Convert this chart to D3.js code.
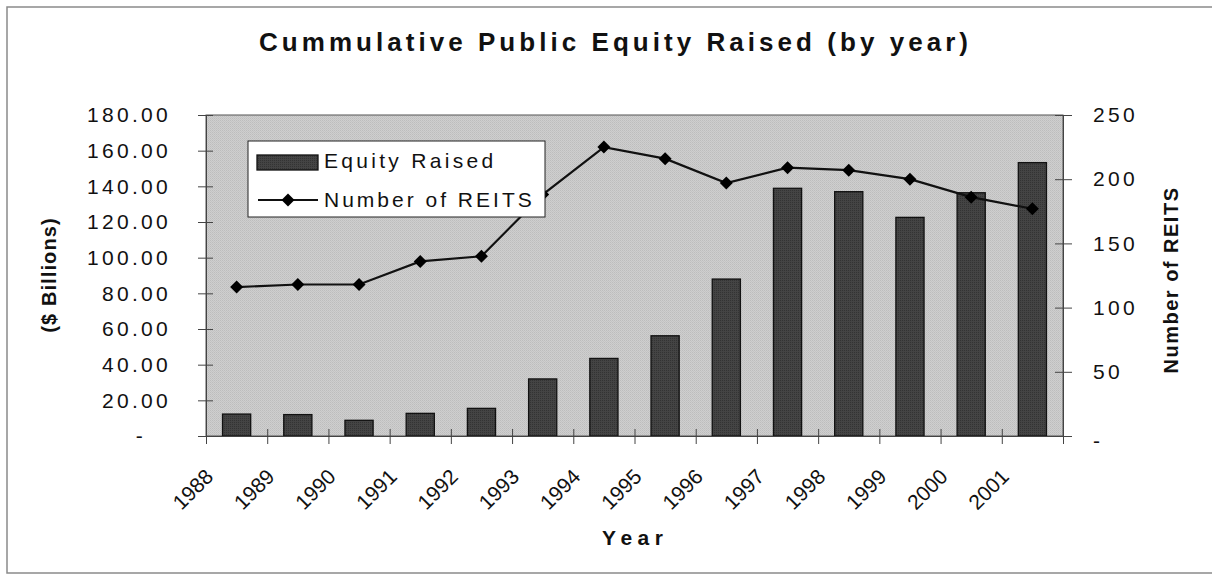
<!DOCTYPE html>
<html>
<head>
<meta charset="utf-8">
<script src="https://cdn.jsdelivr.net/npm/d3@7.9.0/dist/d3.min.js"></script>
<style>
  html, body { margin: 0; padding: 0; background: #fff; }
  svg { display: block; font-family: 'Liberation Sans', Arial, sans-serif; }
</style>
</head>
<body>
<svg id="chart" width="1212" height="577"></svg>
<script>
// values
const years = ['1988', '1989', '1990', '1991', '1992', '1993', '1994', '1995', '1996', '1997', '1998', '1999', '2000', '2001'];
const equityRaised = [12.3, 12.0, 8.8, 12.7, 15.5, 32.0, 43.5, 56.2, 88.0, 138.9, 137.0, 122.6, 136.4, 153.3];
const numberOfReits = [116, 118, 118, 136, 140, 188, 225, 216, 197, 209, 207, 200, 186, 177];
const leftTicks = [0, 20, 40, 60, 80, 100, 120, 140, 160, 180];
const rightTicks = [0, 50, 100, 150, 200, 250];

const rows = years.map((y, i) => ({ year: y, equity: equityRaised[i], reits: numberOfReits[i] }));

const svg = d3.select('#chart');
const plot = { left: 206, right: 1063, top: 115, bottom: 436 };

const defs = svg.append('defs');
const bgPat = defs.append('pattern').attr('id', 'stipple')
  .attr('width', 2).attr('height', 2).attr('patternUnits', 'userSpaceOnUse');
bgPat.append('rect').attr('width', 2).attr('height', 2).attr('fill', '#cfcfcf');
bgPat.append('rect').attr('width', 1).attr('height', 1).attr('fill', '#bdbdbd');
bgPat.append('rect').attr('x', 1).attr('y', 1).attr('width', 1).attr('height', 1).attr('fill', '#c4c4c4');

const barPat = defs.append('pattern').attr('id', 'barStipple')
  .attr('width', 2).attr('height', 2).attr('patternUnits', 'userSpaceOnUse');
barPat.append('rect').attr('width', 2).attr('height', 2).attr('fill', '#444');
barPat.append('rect').attr('width', 1).attr('height', 1).attr('fill', '#333');

// outer chart border
svg.append('rect')
  .attr('x', 7).attr('y', 7).attr('width', 1230).attr('height', 566)
  .attr('fill', 'none').attr('stroke', '#8a8a8a').attr('stroke-width', 1.5);

// scales
const x = d3.scaleBand().domain(years).range([plot.left, plot.right])
  .paddingInner(0.54).paddingOuter(0.27);
const xEdge = d3.scaleLinear().domain([0, years.length]).range([plot.left, plot.right]);
const yLeft = d3.scaleLinear().domain([0, 180]).range([plot.bottom, plot.top]);
const yRight = d3.scaleLinear().domain([0, 250]).range([plot.bottom, plot.top]);

// plot area
svg.append('rect')
  .attr('x', plot.left).attr('y', plot.top)
  .attr('width', plot.right - plot.left).attr('height', plot.bottom - plot.top)
  .attr('fill', 'url(#stipple)').attr('stroke', '#555').attr('stroke-width', 1);

// bars
svg.append('g').selectAll('rect')
  .data(rows)
  .join('rect')
  .attr('x', d => x(d.year))
  .attr('y', d => yLeft(d.equity))
  .attr('width', x.bandwidth())
  .attr('height', d => yLeft(0) - yLeft(d.equity))
  .attr('fill', 'url(#barStipple)')
  .attr('stroke', '#111').attr('stroke-width', 1.3);

// line + markers
const cx = d => x(d.year) + x.bandwidth() / 2;
svg.append('path')
  .datum(rows)
  .attr('fill', 'none').attr('stroke', '#111').attr('stroke-width', 2.2)
  .attr('d', d3.line().x(cx).y(d => yRight(d.reits)));

const diamond = 'M0,-6.5L6.5,0L0,6.5L-6.5,0Z';
svg.append('g').selectAll('path')
  .data(rows)
  .join('path')
  .attr('d', diamond)
  .attr('transform', d => `translate(${cx(d)},${yRight(d.reits)})`)
  .attr('fill', '#000');

// axes
const tickFont = g => g.selectAll('text')
  .attr('font-size', 21).attr('fill', '#111')
  .attr('font-family', "'Liberation Sans', Arial, sans-serif");

const leftAxis = svg.append('g')
  .attr('transform', `translate(${plot.left},0)`)
  .call(d3.axisLeft(yLeft).tickValues(leftTicks).tickSize(8).tickPadding(27)
    .tickFormat(d => d === 0 ? '-' : d3.format('.2f')(d)))
  .call(tickFont);
leftAxis.selectAll('text').attr('letter-spacing', 3.3);
leftAxis.selectAll('.tick line').attr('x1', 7).attr('stroke', '#444');
leftAxis.select('.domain').attr('stroke', '#444');
leftAxis.selectAll('.tick').filter(d => d === 0).select('text')
  .attr('text-anchor', 'middle').attr('x', -65);

const rightAxis = svg.append('g')
  .attr('transform', `translate(${plot.right},0)`)
  .call(d3.axisRight(yRight).tickValues(rightTicks).tickSize(9).tickPadding(21)
    .tickFormat(d => d === 0 ? '-' : d))
  .call(tickFont);
rightAxis.selectAll('text').attr('letter-spacing', 3.3);
rightAxis.selectAll('.tick line').attr('x1', -8).attr('stroke', '#444');
rightAxis.select('.domain').attr('stroke', '#444');
rightAxis.selectAll('.tick').filter(d => d === 0).select('text').attr('dy', '0.55em');

const bottomAxis = svg.append('g')
  .attr('transform', `translate(0,${plot.bottom})`)
  .call(d3.axisBottom(xEdge).tickValues(d3.range(years.length + 1)).tickSize(8)
    .tickFormat(i => years[i] || ''));
bottomAxis.selectAll('.tick line').attr('y1', -7).attr('stroke', '#444');
bottomAxis.select('.domain').attr('stroke', '#444');
bottomAxis.selectAll('text')
  .attr('font-size', 21).attr('fill', '#111')
  .attr('font-family', "'Liberation Sans', Arial, sans-serif")
  .attr('text-anchor', 'end')
  .attr('y', 0).attr('dy', 0)
  .attr('transform', 'translate(8,42) rotate(-45)');

// titles
svg.append('text')
  .attr('x', 259).attr('y', 51)
  .attr('textLength', 709).attr('lengthAdjust', 'spacing')
  .attr('font-size', 26).attr('font-weight', 'bold').attr('fill', '#111')
  .text('Cummulative Public Equity Raised (by year)');

svg.append('text')
  .attr('x', 602).attr('y', 545)
  .attr('textLength', 61).attr('lengthAdjust', 'spacing')
  .attr('font-size', 21).attr('font-weight', 'bold').attr('fill', '#111')
  .text('Year');

svg.append('text')
  .attr('transform', 'translate(56,275) rotate(-90)')
  .attr('text-anchor', 'middle')
  .attr('font-size', 20).attr('font-weight', 'bold').attr('fill', '#111')
  .attr('letter-spacing', 1.1)
  .text('($ Billions)');

svg.append('text')
  .attr('transform', 'translate(1178,280) rotate(-90)')
  .attr('text-anchor', 'middle')
  .attr('font-size', 20).attr('font-weight', 'bold').attr('fill', '#111')
  .attr('letter-spacing', 1.5)
  .text('Number of REITS');

// legend
const legend = svg.append('g');
legend.append('rect')
  .attr('x', 248).attr('y', 141).attr('width', 297).attr('height', 76)
  .attr('fill', '#fff').attr('stroke', '#222').attr('stroke-width', 1);
legend.append('rect')
  .attr('x', 257).attr('y', 155).attr('width', 61).attr('height', 15)
  .attr('fill', 'url(#barStipple)').attr('stroke', '#111').attr('stroke-width', 1.3);
legend.append('line')
  .attr('x1', 258).attr('x2', 318).attr('y1', 200).attr('y2', 200)
  .attr('stroke', '#111').attr('stroke-width', 2.2);
legend.append('path').attr('d', diamond)
  .attr('transform', 'translate(288,200)').attr('fill', '#000');
legend.append('text')
  .attr('x', 324).attr('y', 168)
  .attr('font-size', 21).attr('letter-spacing', 3.3).attr('fill', '#111')
  .text('Equity Raised');
legend.append('text')
  .attr('x', 324).attr('y', 207)
  .attr('font-size', 21).attr('letter-spacing', 3.0).attr('fill', '#111')
  .text('Number of REITS');
</script>
</body>
</html>
